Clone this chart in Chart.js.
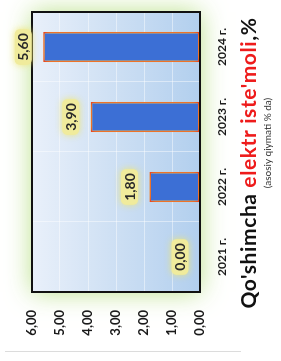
<!DOCTYPE html>
<html><head><meta charset="utf-8">
<script src="https://cdn.jsdelivr.net/npm/chart.js@4/dist/chart.umd.min.js"></script>
<style>
html,body{margin:0;padding:0;background:#fff;width:281px;height:361px;overflow:hidden}
#wrap{position:absolute;left:0;top:0;width:361px;height:281px;transform-origin:0 0;transform:translateY(361px) rotate(-90deg)}
canvas{display:block}
</style></head><body>
<div id="wrap"><canvas id="c" width="361" height="281"></canvas></div>
<script>
const categories = ['2021 г.', '2022 г.', '2023 г.', '2024 г.'];
const values = [0.00, 1.80, 3.90, 5.60];
const yTicks = [0, 1, 2, 3, 4, 5, 6];
const titleParts = [["Qo'shimcha ", '#111111'], ["elektr iste'moli", '#ee1b1b'], [',%', '#111111']];
const subtitle = '(asosiy qiymati % da)';

const FONT = 'Lato, "Open Sans", sans-serif';
const fmt = v => Number(v).toFixed(2).replace('.', ',');

const bgPlugin = {
  id: 'bg',
  beforeDraw(chart) {
    const {ctx, chartArea: a} = chart;
    ctx.save();
    ctx.shadowColor = 'rgba(175,220,120,0.9)';
    ctx.shadowBlur = 24;
    ctx.fillStyle = '#eaf1fb';
    ctx.fillRect(a.left, a.top, a.right - a.left, a.bottom - a.top);
    ctx.restore();
    ctx.save();
    const g = ctx.createLinearGradient(0, a.top, 0, a.bottom);
    g.addColorStop(0, '#e9f0fa');
    g.addColorStop(0.45, '#d0e1f4');
    g.addColorStop(1, '#b2cfee');
    ctx.fillStyle = g;
    ctx.fillRect(a.left, a.top, a.right - a.left, a.bottom - a.top);
    ctx.restore();
  },
  beforeDatasetsDraw(chart) {
    chart.ctx.save();
    chart.ctx.shadowColor = 'rgba(255,225,60,0.95)';
    chart.ctx.shadowBlur = 6;
  },
  afterDatasetsDraw(chart) {
    chart.ctx.restore();
  },
  afterDraw(chart) {
    const {ctx, chartArea: a} = chart;
    // plot border
    ctx.save();
    ctx.strokeStyle = '#111';
    ctx.lineWidth = 2;
    ctx.strokeRect(a.left, a.top, a.right - a.left, a.bottom - a.top);
    ctx.restore();
    // data labels
    const meta = chart.getDatasetMeta(0);
    ctx.save();
    ctx.font = 'bold 14px ' + FONT;
    ctx.textAlign = 'center';
    ctx.textBaseline = 'middle';
    meta.data.forEach((bar, i) => {
      const txt = fmt(values[i]);
      const w = ctx.measureText(txt).width + 8;
      const h = 17;
      const cx = bar.x, cy = bar.y - 20;
      ctx.save();
      ctx.shadowColor = 'rgba(240,230,110,0.9)';
      ctx.shadowBlur = 7;
      ctx.fillStyle = '#f0eb9c';
      ctx.beginPath();
      ctx.roundRect(cx - w / 2, cy - h / 2, w, h, 5);
      ctx.fill();
      ctx.restore();
      ctx.fillStyle = '#2a2a2a';
      ctx.fillText(txt, cx, cy + 0.5);
    });
    ctx.restore();
    // title
    ctx.save();
    ctx.font = 'bold 21px ' + FONT;
    ctx.letterSpacing = '0.6px';
    ctx.textBaseline = 'middle';
    ctx.textAlign = 'left';
    const total = titleParts.reduce((s, p) => s + ctx.measureText(p[0]).width, 0);
    let x = 198 - total / 2;
    titleParts.forEach(p => {
      ctx.fillStyle = p[1];
      ctx.fillText(p[0], x, 249);
      x += ctx.measureText(p[0]).width;
    });
    ctx.letterSpacing = '0px';
    ctx.font = '10px ' + FONT;
    ctx.fillStyle = '#333';
    ctx.textAlign = 'center';
    ctx.fillText(subtitle, 218, 268);
    // thin separator line
    ctx.strokeStyle = '#dcdcdc';
    ctx.lineWidth = 1;
    ctx.beginPath();
    ctx.moveTo(9.5, 5);
    ctx.lineTo(9.5, 241);
    ctx.stroke();
    ctx.restore();
  }
};

new Chart(document.getElementById('c'), {
  type: 'bar',
  data: {
    labels: categories,
    datasets: [{
      data: values,
      backgroundColor: '#3c6fd5',
      borderColor: '#e3241b',
      borderWidth: 1.5,
      borderSkipped: false,
      categoryPercentage: 1,
      barPercentage: 0.43
    }]
  },
  options: {
    responsive: false,
    animation: false,
    devicePixelRatio: 1,
    layout: {padding: {left: 0, right: 12, top: 32, bottom: 0}},
    plugins: {legend: {display: false}, tooltip: {enabled: false}, title: {display: false}},
    scales: {
      x: {
        grid: {color: 'rgba(255,255,255,0.45)', drawTicks: false, offset: true},
        border: {display: false},
        ticks: {font: {family: FONT, size: 12, weight: 'bold'}, color: '#1a1a1a', padding: 15, maxRotation: 0},
        afterFit(s) { s.height = 81; }
      },
      y: {
        min: 0, max: 6,
        grid: {color: 'rgba(255,255,255,0.45)', drawTicks: false},
        border: {display: false},
        afterBuildTicks(s) { s.ticks = yTicks.map(v => ({value: v})); },
        ticks: {font: {family: FONT, size: 13, weight: 'bold'}, color: '#1a1a1a', padding: 18, callback: v => fmt(v)},
        afterFit(s) { s.width = 69; }
      }
    }
  },
  plugins: [bgPlugin]
});
</script>
</body></html>
